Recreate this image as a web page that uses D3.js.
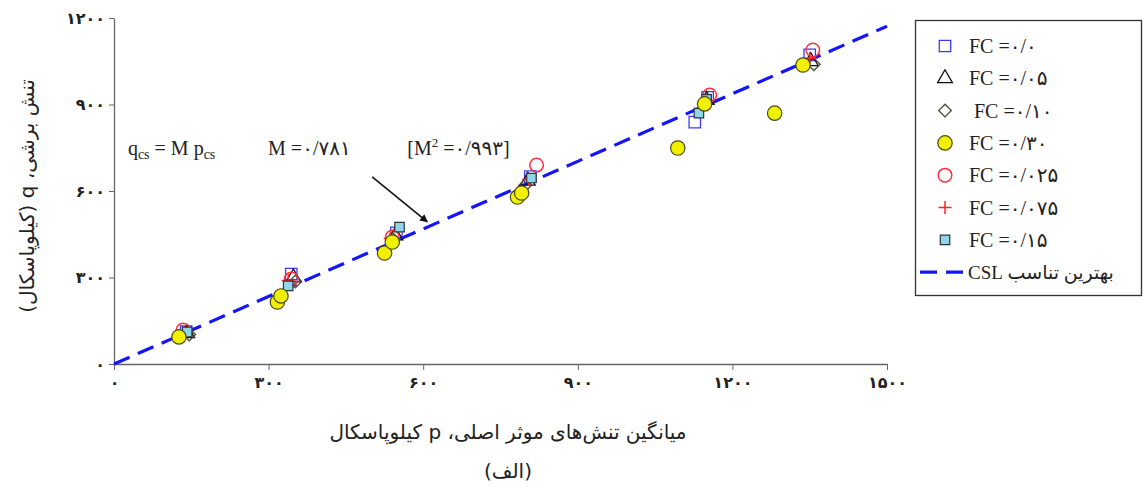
<!DOCTYPE html>
<html>
<head>
<meta charset="utf-8">
<script src="https://cdn.jsdelivr.net/npm/d3@7"></script>
<style>
  html, body { margin: 0; padding: 0; background: #fff; }
  svg { display: block; }
  .latin { font-family: "Liberation Serif", "DejaVu Sans", serif; }
  .fa { font-family: "DejaVu Sans", sans-serif; }
</style>
</head>
<body>
<svg id="chart" width="1144" height="491"></svg>
<script>
// Axis ticks and their Persian labels
const xTicks = [0, 300, 600, 900, 1200, 1500];
const xTickLabels = ["۰", "۳۰۰", "۶۰۰", "۹۰۰", "۱۲۰۰", "۱۵۰۰"];
const yTicks = [0, 300, 600, 900, 1200];
const yTickLabels = ["۰", "۳۰۰", "۶۰۰", "۹۰۰", "۱۲۰۰"];

// Measured points [p, q] in kPa for each fines content
const fc000 = [[140,112],[344,312],[548,455],[808,650],[1127,839],[1152,925],[1350,1072]];
const fc005 = [[142,106],[348,300],[546,445],[803,635],[1150,915],[1352,1050]];
const fc010 = [[146,102],[352,286],[542,432],[798,620],[1148,905],[1358,1040]];
const fc025 = [[134,118],[344,295],[540,440],[820,690],[1156,933],[1356,1089]];
const fc075 = [[136,110],[338,290],[536,435],[805,640],[1148,912],[1350,1060]];
const fc015 = [[142,111],[338,271],[554,475],[810,645],[1135,870],[1150,918]];
const fc030 = [[126,94],[317,215],[324,236],[525,385],[540,423],[783,579],[791,593],[1094,749],[1146,902],[1282,870],[1337,1037]];

// Critical state line q = M p
const slopeM = 0.781;
const cslRange = [0, 1500];

const legendLabels = ["FC =۰/۰", "FC =۰/۰۵", " FC =۰/۱۰", "FC =۰/۳۰", "FC =۰/۰۲۵", "FC =۰/۰۷۵", "FC =۰/۱۵"];
const cslLabel = "بهترین تناسب CSL";

const svg = d3.select("#chart");
const x = d3.scaleLinear().domain([0, 1500]).range([114, 887]);
const y = d3.scaleLinear().domain([0, 1200]).range([364, 18]);

// marker painters
const sym = (type, size) => d3.symbol().type(type).size(size)();
const styles = {
  fc000: g => g.append("path").attr("d", sym(d3.symbolSquare, 130)).attr("fill", "none").attr("stroke", "#3a3aff").attr("stroke-width", 1.3),
  fc005: g => g.append("path").attr("d", sym(d3.symbolTriangle, 95)).attr("fill", "none").attr("stroke", "#111").attr("stroke-width", 1.3),
  fc010: g => g.append("path").attr("d", sym(d3.symbolSquare, 80)).attr("transform", "rotate(45)").attr("fill", "none").attr("stroke", "#4a4a30").attr("stroke-width", 1.3),
  fc025: g => g.append("circle").attr("r", 6.8).attr("fill", "none").attr("stroke", "#ff3040").attr("stroke-width", 1.5),
  fc075: g => g.append("path").attr("d", "M-6.5,0H6.5M0,-6.5V6.5").attr("stroke", "#ff2020").attr("stroke-width", 1.5),
  fc015: g => g.append("path").attr("d", sym(d3.symbolSquare, 90)).attr("fill", "#8fd6ea").attr("stroke", "#333").attr("stroke-width", 1.2),
  fc030: g => g.append("circle").attr("r", 7.2).attr("fill", "#f0f000").attr("stroke", "#4a4a10").attr("stroke-width", 1.2)
};
const seriesList = [
  ["fc000", fc000], ["fc005", fc005], ["fc010", fc010], ["fc030", fc030],
  ["fc025", fc025], ["fc075", fc075], ["fc015", fc015]
];

// axes
const axisColor = "#666";
const gx = svg.append("g").attr("transform", `translate(0,${y(0)})`)
  .call(d3.axisBottom(x).tickValues(xTicks).tickFormat((d, i) => xTickLabels[i]).tickSize(6).tickSizeOuter(0));
const gy = svg.append("g").attr("transform", `translate(${x(0)},0)`)
  .call(d3.axisLeft(y).tickValues(yTicks).tickFormat((d, i) => yTickLabels[i]).tickSize(5).tickSizeOuter(0));
[gx, gy].forEach(g => {
  g.select(".domain").attr("stroke", axisColor).attr("stroke-width", 1.3);
  g.selectAll(".tick line").attr("stroke", axisColor);
  g.selectAll(".tick text").attr("class", "fa").attr("font-size", 16).attr("font-weight", "bold").attr("fill", "#222");
});
gx.selectAll(".tick text").attr("dy", "0.95em");
gy.selectAll(".tick text").attr("x", -9);

// CSL line
const line = d3.line().x(d => x(d)).y(d => y(slopeM * d));
svg.append("path").datum(cslRange).attr("d", line)
  .attr("fill", "none").attr("stroke", "#1414ff").attr("stroke-width", 3.2)
  .attr("stroke-dasharray", "17,9");

// points: yellow drawn last so it sits on top
const drawOrder = ["fc000", "fc005", "fc010", "fc025", "fc075", "fc015", "fc030"];
drawOrder.forEach(key => {
  const data = seriesList.find(s => s[0] === key)[1];
  data.forEach(d => {
    const g = svg.append("g").attr("transform", `translate(${x(d[0])},${y(d[1])})`);
    styles[key](g);
  });
});

// annotation
const ann = svg.append("g").attr("class", "latin").attr("font-size", 20).attr("fill", "#222");
const t1 = ann.append("text").attr("x", x(27)).attr("y", y(725));
t1.append("tspan").text("q");
t1.append("tspan").attr("font-size", 14).attr("dy", 4).text("cs");
t1.append("tspan").attr("dy", -4).text(" = M p");
t1.append("tspan").attr("font-size", 14).attr("dy", 4).text("cs");
ann.append("text").attr("x", x(299)).attr("y", y(725)).text("M =۰/۷۸۱");
const t3 = ann.append("text").attr("x", x(569)).attr("y", y(725));
t3.append("tspan").text("[M");
t3.append("tspan").attr("font-size", 13).attr("dy", -8).text("2");
t3.append("tspan").attr("dy", 8).text(" =۰/۹۹۳]");

svg.append("defs").append("marker").attr("id", "arrow")
  .attr("viewBox", "0 0 10 10").attr("refX", 9).attr("refY", 5)
  .attr("markerWidth", 8).attr("markerHeight", 8).attr("markerUnits", "userSpaceOnUse")
  .attr("orient", "auto")
  .append("path").attr("d", "M0,0L10,5L0,10Z").attr("fill", "#111");
const arrowPts = [[501, 649], [608, 493]];
svg.append("line")
  .attr("x1", x(arrowPts[0][0])).attr("y1", y(arrowPts[0][1]))
  .attr("x2", x(arrowPts[1][0])).attr("y2", y(arrowPts[1][1]))
  .attr("stroke", "#111").attr("stroke-width", 1.6).attr("marker-end", "url(#arrow)");

// axis titles
svg.append("text").attr("class", "fa").attr("font-size", 20).attr("fill", "#222")
  .attr("text-anchor", "middle").attr("x", 508).attr("y", 439)
  .text("\u2067میانگین تنش‌های موثر اصلی، p کیلوپاسکال\u2069");
svg.append("text").attr("class", "fa").attr("font-size", 20).attr("fill", "#222")
  .attr("text-anchor", "middle").attr("x", 508).attr("y", 478)
  .text("\u2067(الف)\u2069");
svg.append("text").attr("class", "fa").attr("font-size", 20).attr("fill", "#222")
  .attr("text-anchor", "middle")
  .attr("transform", "translate(34,196) rotate(-90)")
  .text("\u2067تنش برشی، q (کیلوپاسکال)\u2069");

// legend
const lg = svg.append("g");
lg.append("rect").attr("x", 915.5).attr("y", 20.5).attr("width", 226).attr("height", 275)
  .attr("fill", "#fff").attr("stroke", "#333").attr("stroke-width", 1.3);
const legendKeys = ["fc000", "fc005", "fc010", "fc030", "fc025", "fc075", "fc015"];
const rowY = i => 46 + i * 32.3;
legendKeys.forEach((key, i) => {
  const g = lg.append("g").attr("transform", `translate(945,${rowY(i)})`);
  styles[key](g);
  lg.append("text").attr("class", "latin").attr("font-size", 20).attr("fill", "#222")
    .attr("x", 969).attr("y", rowY(i) + 7).attr("xml:space", "preserve").text(legendLabels[i]);
});
lg.append("line").attr("x1", 920).attr("x2", 967).attr("y1", rowY(7)).attr("y2", rowY(7))
  .attr("stroke", "#1414ff").attr("stroke-width", 3.2).attr("stroke-dasharray", "17,9");
lg.append("text").attr("class", "latin").attr("font-size", 19).attr("fill", "#222")
  .attr("x", 968).attr("y", rowY(7) + 7)
  .text("\u2067" + cslLabel + "\u2069");
</script>
</body>
</html>
